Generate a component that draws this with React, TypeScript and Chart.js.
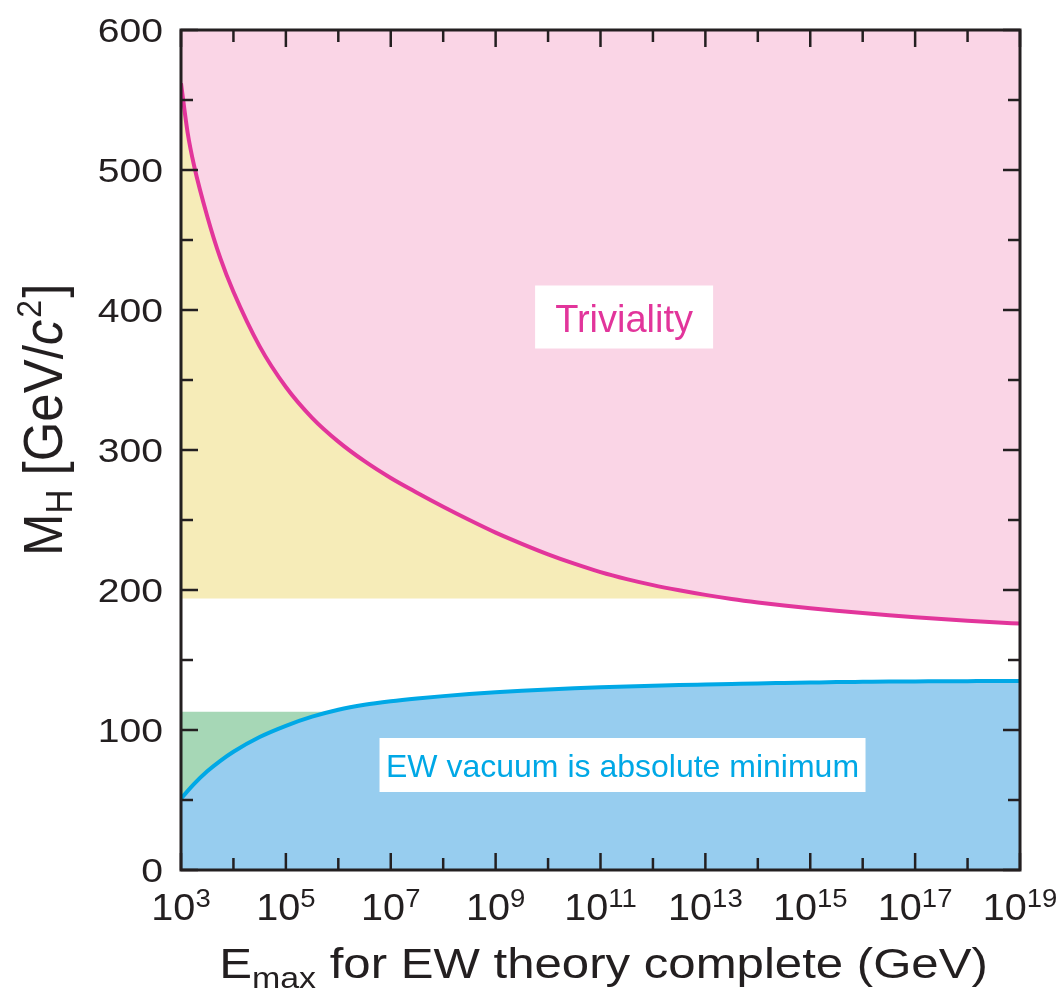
import React, { useEffect, useRef } from "react";
import { Chart, registerables } from "chart.js";

Chart.register(...registerables);

// ---- data (log10 of E in GeV, Higgs mass in GeV/c^2) ----
const trivialityExp = [3, 3.125, 3.25, 3.5, 3.75, 4, 4.5, 5, 5.5, 6, 6.5, 7, 7.5, 8, 8.5, 9, 9.5, 10, 10.5, 11, 11.5, 12, 12.5, 13, 13.5, 14, 14.5, 15, 15.5, 16, 16.5, 17, 17.5, 18, 18.5, 19];
const trivialityMass = [562, 527, 503, 467, 437, 413, 374, 345, 323, 306, 292, 280, 269.5, 259.5, 250, 241, 233, 225.5, 218.8, 212.8, 207.8, 203.5, 199.8, 196.5, 193.6, 191.1, 188.9, 186.9, 185.1, 183.5, 182, 180.6, 179.3, 178.1, 177, 176];
const vacuumExp = [3, 3.25, 3.5, 3.75, 4, 4.5, 5, 5.5, 6, 6.5, 7, 7.5, 8, 8.5, 9, 9.5, 10, 10.5, 11, 11.5, 12, 12.5, 13, 13.5, 14, 14.5, 15, 15.5, 16, 16.5, 17, 17.5, 18, 18.5, 19];
const vacuumMass = [51, 61.5, 70.5, 78, 84.5, 95, 103, 109.5, 114.5, 118, 120.5, 122.5, 124.2, 125.7, 127, 128.1, 129, 129.8, 130.5, 131.1, 131.6, 132.1, 132.5, 132.9, 133.3, 133.6, 133.9, 134.2, 134.4, 134.6, 134.7, 134.8, 134.9, 135, 135];
const yellowFloor = 194;
const yellowEndExp = 13.4;
const greenCeiling = 113;
const greenEndExp = 5.85;
const xTickExps = [3, 4, 5, 6, 7, 8, 9, 10, 11, 12, 13, 14, 15, 16, 17, 18, 19];
const xLabelExps = [3, 5, 7, 9, 11, 13, 15, 17, 19];
const yTickValues = [0, 50, 100, 150, 200, 250, 300, 350, 400, 450, 500, 550, 600];
const yLabelValues = [0, 100, 200, 300, 400, 500, 600];

const INK = "#231f20";
const FONT = "'Liberation Sans', Arimo, Helvetica, Arial, sans-serif";

const pts = (ex: number[], m: number[]) => ex.map((e, i) => ({ x: Math.pow(10, e), y: m[i] }));

function stretchedText(ctx: CanvasRenderingContext2D, s: string, x: number, y: number, font: string, sx: number, align: CanvasTextAlign = "left") {
  ctx.save();
  ctx.font = font;
  ctx.translate(x, y);
  ctx.scale(sx, 1);
  ctx.textAlign = align;
  ctx.textBaseline = "alphabetic";
  ctx.fillText(s, 0, 0);
  ctx.restore();
}

const decor = {
  id: "decor",
  afterDatasetsDraw(chart: any) {
    const { ctx, chartArea: a, scales } = chart;
    const x = scales.x;
    const y = scales.y;
    ctx.save();
    ctx.fillStyle = INK;
    ctx.strokeStyle = INK;
    ctx.lineCap = "butt";

    // ticks (inward, all four sides)
    ctx.lineWidth = 2.5;
    const seg = (x1: number, y1: number, x2: number, y2: number) => {
      ctx.beginPath();
      ctx.moveTo(x1, y1);
      ctx.lineTo(x2, y2);
      ctx.stroke();
    };
    xTickExps.forEach((e) => {
      const px = x.getPixelForValue(Math.pow(10, e));
      const len = xLabelExps.includes(e) ? 17 : 12;
      seg(px, a.bottom, px, a.bottom - len);
      seg(px, a.top, px, a.top + len);
    });
    yTickValues.forEach((v) => {
      const py = y.getPixelForValue(v);
      const len = yLabelValues.includes(v) ? 17 : 12;
      seg(a.left, py, a.left + len, py);
      seg(a.right, py, a.right - len, py);
    });

    // frame
    ctx.lineWidth = 3;
    ctx.strokeRect(a.left, a.top, a.right - a.left, a.bottom - a.top);

    // y tick labels
    yLabelValues.forEach((v) => {
      const py = y.getPixelForValue(v);
      stretchedText(ctx, String(v), a.left - 18, py + 12, `34px ${FONT}`, 1.15, "right");
    });

    // x tick labels 10^n
    xLabelExps.forEach((e) => {
      const px = x.getPixelForValue(Math.pow(10, e));
      const sx = 1.1;
      ctx.font = `36px ${FONT}`;
      const wb = ctx.measureText("10").width * sx;
      ctx.font = `25px ${FONT}`;
      const we = ctx.measureText(String(e)).width * sx;
      const start = px - (wb + we) / 2;
      stretchedText(ctx, "10", start, 920, `36px ${FONT}`, sx);
      stretchedText(ctx, String(e), start + wb, 907, `25px ${FONT}`, sx);
    });

    // x title: E_max for EW theory complete (GeV)
    {
      const sx = 1.17;
      const f1 = `42px ${FONT}`;
      const f2 = `29px ${FONT}`;
      const rest = " for EW theory complete (GeV)";
      ctx.font = f1;
      const wE = ctx.measureText("E").width * sx;
      const wR = ctx.measureText(rest).width * sx;
      ctx.font = f2;
      const wS = ctx.measureText("max").width * sx;
      const total = wE + wS + wR;
      const cx = (a.left + a.right) / 2 + 3;
      const sxp = cx - total / 2;
      stretchedText(ctx, "E", sxp, 978, f1, sx);
      stretchedText(ctx, "max", sxp + wE, 988, f2, sx);
      stretchedText(ctx, rest, sxp + wE + wS, 978, f1, sx);
    }

    // y title: M_H [GeV/c^2] rotated
    {
      ctx.save();
      ctx.translate(62, 556);
      ctx.rotate(-Math.PI / 2);
      ctx.scale(1, 1.1);
      ctx.textBaseline = "alphabetic";
      ctx.textAlign = "left";
      let p = 0;
      const put = (s: string, font: string, dy: number) => {
        ctx.font = font;
        ctx.fillText(s, p, dy);
        p += ctx.measureText(s).width;
      };
      put("M", `51px ${FONT}`, 0);
      put("H", `33px ${FONT}`, 9);
      put(" [GeV/", `51px ${FONT}`, 0);
      put("c", `italic 51px ${FONT}`, 0);
      p += 2;
      put("2", `32px ${FONT}`, -19);
      p += 2;
      put("]", `51px ${FONT}`, 0);
      ctx.restore();
    }

    // annotation: Triviality
    {
      const cx = x.getPixelForValue(Math.pow(10, 11.45));
      const cy = y.getPixelForValue(395);
      ctx.fillStyle = "#ffffff";
      ctx.fillRect(cx - 89, cy - 31.5, 178, 63);
      ctx.fillStyle = "#e2359b";
      ctx.font = `38px ${FONT}`;
      ctx.textAlign = "center";
      ctx.textBaseline = "alphabetic";
      ctx.fillText("Triviality", cx, cy + 15);
    }
    // annotation: EW vacuum
    {
      const cx = x.getPixelForValue(Math.pow(10, 11.42));
      const cy = y.getPixelForValue(75);
      ctx.fillStyle = "#ffffff";
      ctx.fillRect(cx - 243, cy - 27, 486, 54);
      ctx.fillStyle = "#00a8e6";
      ctx.font = `32px ${FONT}`;
      ctx.textAlign = "center";
      ctx.textBaseline = "alphabetic";
      ctx.fillText("EW vacuum is absolute minimum", cx, cy + 12);
    }
    ctx.restore();
  },
};

export default function App() {
  const ref = useRef<HTMLCanvasElement | null>(null);
  useEffect(() => {
    document.body.style.margin = "0";
    const canvas = ref.current;
    if (!canvas) return;
    const triv = pts(trivialityExp, trivialityMass);
    const vac = pts(vacuumExp, vacuumMass);
    const yellow = [
      ...pts(trivialityExp.filter((e) => e < yellowEndExp), trivialityMass.filter((_, i) => trivialityExp[i] < yellowEndExp)),
      { x: Math.pow(10, yellowEndExp), y: yellowFloor },
    ];
    const green = [
      ...pts(vacuumExp.filter((e) => e < greenEndExp), vacuumMass.filter((_, i) => vacuumExp[i] < greenEndExp)),
      { x: Math.pow(10, greenEndExp), y: greenCeiling },
    ];
    const common = { pointRadius: 0, cubicInterpolationMode: "monotone" as const, parsing: false as const };
    const chart = new Chart(canvas, {
      type: "line",
      data: {
        datasets: [
          { ...common, data: triv, borderColor: "#e2359b", borderWidth: 4, fill: false },
          { ...common, data: vac, borderColor: "#00a8e6", borderWidth: 4, fill: false },
          { ...common, data: yellow, borderWidth: 0, borderColor: "rgba(0,0,0,0)", backgroundColor: "#f6ecb8", fill: { value: yellowFloor } },
          { ...common, data: green, borderWidth: 0, borderColor: "rgba(0,0,0,0)", backgroundColor: "#a6d7b6", fill: { value: greenCeiling } },
          { ...common, data: triv, borderWidth: 0, borderColor: "rgba(0,0,0,0)", backgroundColor: "#fad5e6", fill: "end" },
          { ...common, data: vac, borderWidth: 0, borderColor: "rgba(0,0,0,0)", backgroundColor: "#97cdef", fill: "start" },
        ],
      },
      options: {
        animation: false,
        responsive: false,
        maintainAspectRatio: false,
        layout: { padding: { top: 30, right: 43, left: 0, bottom: 0 } },
        plugins: { legend: { display: false }, tooltip: { enabled: false }, filler: { propagate: false } },
        scales: {
          x: {
            type: "logarithmic",
            min: 1e3,
            max: 1e19,
            grid: { display: false },
            border: { display: false },
            ticks: { display: false },
            afterFit: (s: any) => {
              s.height = 122;
            },
          },
          y: {
            type: "linear",
            min: 0,
            max: 600,
            grid: { display: false },
            border: { display: false },
            ticks: { display: false, stepSize: 50 },
            afterFit: (s: any) => {
              s.width = 181;
            },
          },
        },
      },
      plugins: [decor],
    });
    return () => chart.destroy();
  }, []);
  return (
    <div style={{ width: 1063, height: 992 }}>
      <canvas ref={ref} width={1063} height={992} style={{ display: "block" }} />
    </div>
  );
}
